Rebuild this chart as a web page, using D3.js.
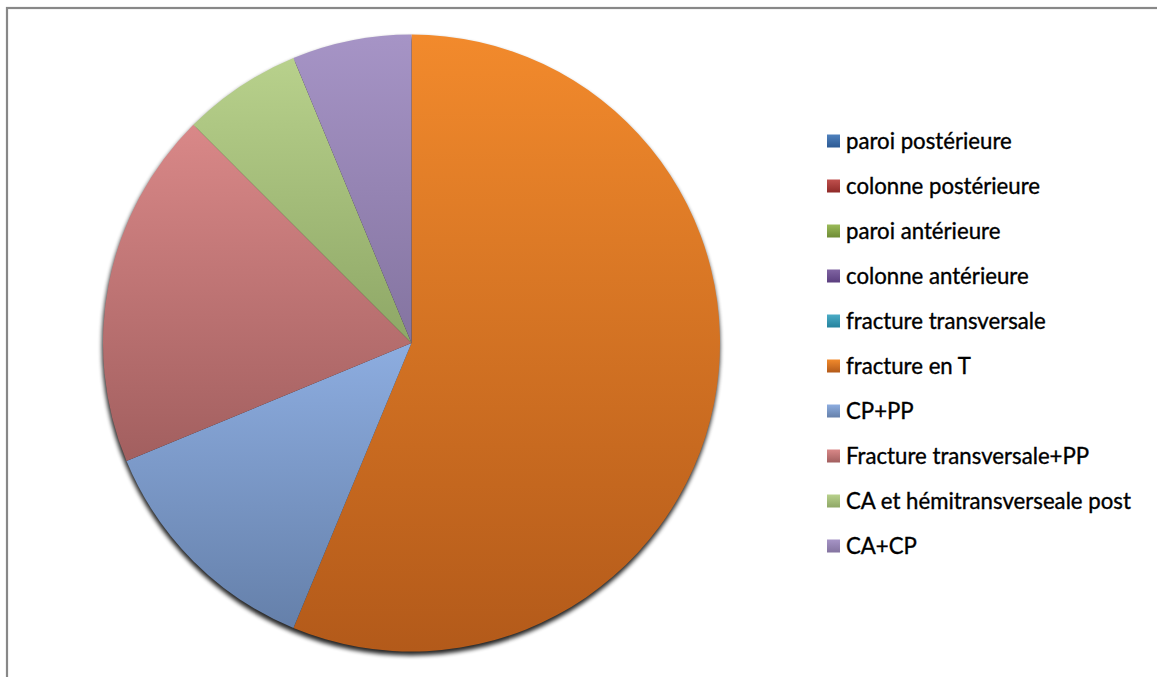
<!DOCTYPE html>
<html><head><meta charset="utf-8">
<script src="https://cdn.jsdelivr.net/npm/d3@7"></script>
<style>html,body{margin:0;padding:0;background:#fff;overflow:hidden}</style>
</head><body>
<svg id="chart" width="1157" height="677"></svg>
<script>
const categories = ["paroi postérieure","colonne postérieure","paroi antérieure","colonne antérieure","fracture transversale","fracture en T","CP+PP","Fracture transversale+PP","CA et hémitransverseale post","CA+CP"];
const values = [0,0,0,0,0,9,2,3,1,1];
const colorsTop = ["#4F81BD","#C0504D","#9BBB59","#8064A2","#4BACC6","#F28A2C","#8DADE0","#D98888","#B8D18C","#A694C6"];
const colorsBottom = ["#2C5A94","#8F2A28","#6E8C35","#5B3F7F","#24829D","#B35A1A","#6580AA","#A25F5F","#8EA766","#8474A0"];

const svg = d3.select("#chart");
const defs = svg.append("defs");
categories.forEach((c,i)=>{
  const g = defs.append("linearGradient").attr("id","g"+i).attr("x1",0).attr("y1",0).attr("x2",0).attr("y2",1);
  g.append("stop").attr("offset","0%").attr("stop-color",colorsTop[i]);
  g.append("stop").attr("offset","100%").attr("stop-color",colorsBottom[i]);
});
const f = defs.append("filter").attr("id","sh").attr("x","-10%").attr("y","-10%").attr("width","120%").attr("height","120%");
f.append("feGaussianBlur").attr("stdDeviation",2.2);

// chart border
svg.append("rect").attr("x",7).attr("y",8).attr("width",1160).attr("height",690)
  .attr("fill","none").attr("stroke","#888").attr("stroke-width",2.2);

const cx = 411.5, cy = 343, r = 308.5;
svg.append("circle").attr("cx",cx-0.5).attr("cy",cy+3.5).attr("r",r+0.5).attr("fill","#000").attr("opacity",0.85).attr("filter","url(#sh)");

const pie = d3.pie().sort(null).value(d=>d.v);
const arcs = pie(values.map((v,i)=>({v,i})));
const arc = d3.arc().innerRadius(0).outerRadius(r);
svg.append("g").attr("transform",`translate(${cx},${cy})`)
  .selectAll("path").data(arcs.filter(a=>a.data.v>0)).join("path")
  .attr("d",arc).attr("fill",d=>`url(#g${d.data.i})`);

// legend
const lg = svg.append("g");
const y0 = 141, dy = 45;
categories.forEach((c,i)=>{
  lg.append("rect").attr("x",827).attr("y",y0+i*dy-6.5).attr("width",13).attr("height",13).attr("fill",`url(#g${i})`);
  lg.append("text").attr("x",846).attr("y",y0+i*dy+8)
    .attr("font-family","Lato, 'Open Sans', sans-serif").attr("font-size",22.2).attr("fill","#000")
    .attr("stroke","#000").attr("stroke-width",0.35)
    .text(c);
});
</script>
</body></html>
